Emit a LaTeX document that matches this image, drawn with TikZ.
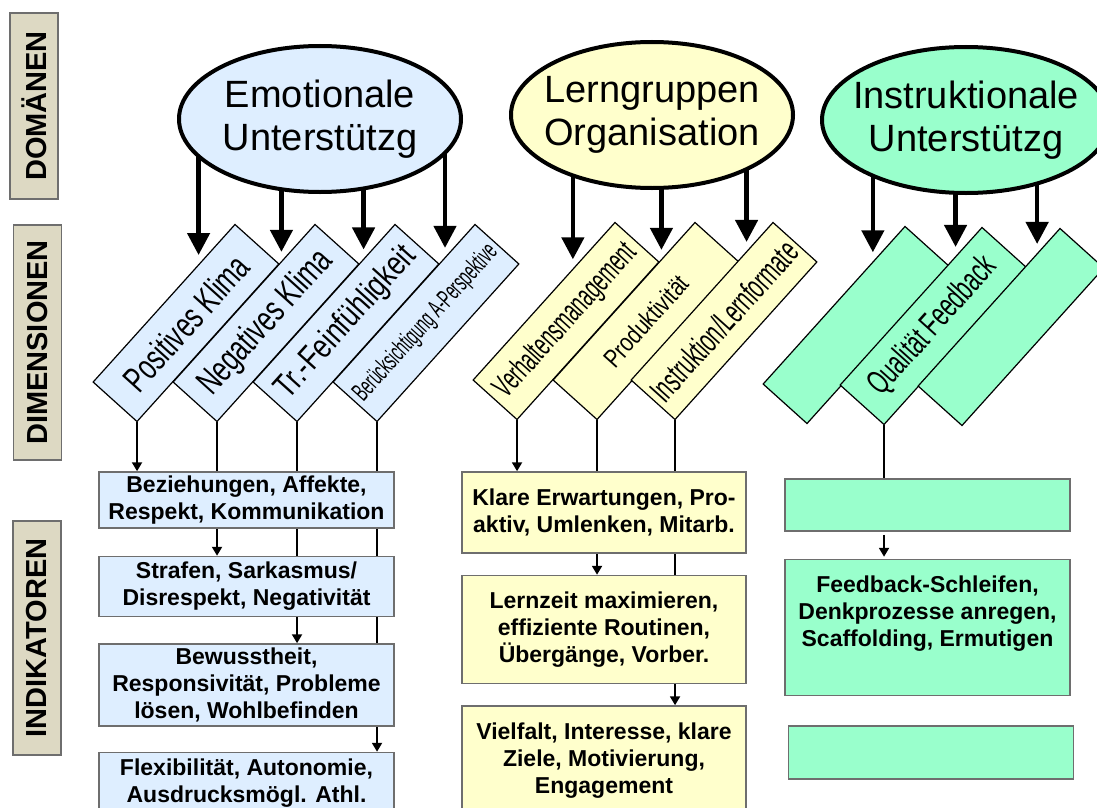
\documentclass[tikz,border=0pt]{standalone}
\usepackage{fontspec}
\setmainfont{Liberation Sans}
\usepackage{graphicx}
\usepackage{tikz}
\usetikzlibrary{shapes.geometric, arrows.meta, positioning, calc, backgrounds}

\definecolor{emoBlue}{RGB}{222,238,255}
\definecolor{orgYellow}{RGB}{255,255,204}
\definecolor{instGreen}{RGB}{153,255,204}
\definecolor{labelBeige}{RGB}{221,217,195}
\definecolor{frameGray}{RGB}{110,110,110}

% squeezed label text: factor, size, text
\newcommand{\dimlabel}[3]{\fontsize{#2}{#2}\selectfont\scalebox{#1}[1]{#3}}

\begin{document}
\begin{tikzpicture}[x=1pt, y=-1pt,
  domnode/.style={ellipse, draw, line width=4pt, minimum width=282pt, minimum height=146pt,
                  align=center, inner xsep=-20pt, inner ysep=0pt,
                  font={\fontsize{38}{43}\selectfont}},
  dimbox/.style={rectangle, draw, line width=1.2pt, rotate=48, minimum width=212pt,
                 minimum height=59pt, inner sep=0pt},
  indbox/.style={rectangle, draw=frameGray, line width=1.5pt, minimum width=295pt,
                 align=center, inner sep=1pt, font={\fontsize{23}{27}\bfseries\selectfont}},
  sidelbl/.style={rectangle, draw=frameGray, line width=1.5pt, fill=labelBeige, rotate=90,
                  minimum height=48pt, inner sep=0pt, font={\fontsize{29}{29}\bfseries\selectfont}},
  domarrow/.style={-{Triangle[length=22pt, width=22pt]}, line width=4.5pt, shorten >=9pt},
  connector/.style={line width=2pt},
  arrow/.style={connector, -{Triangle[length=9pt, width=10pt]}},
]
  \useasboundingbox (0,0) rectangle (1097,808);
  \clip (0,0) rectangle (1097,808);

  % Row labels on the left
  \node[sidelbl, minimum width=186pt] (domlbl) at (34,106) {DOMÄNEN};
  \node[sidelbl, minimum width=235pt] (dimlbl) at (37.5,342.5) {DIMENSIONEN};
  \node[sidelbl, minimum width=234pt] (indlbl) at (37,638) {INDIKATOREN};

  % Domains
  \node[domnode, fill=emoBlue] (emo) at (320,119) {Emotionale\\Unterstützg};
  \node[domnode, fill=orgYellow] (org) at (652,115) {Lerngruppen\\Organisation};
  \node[domnode, fill=instGreen, minimum width=288pt] (inst) at (966,120) {Instruktionale\\Unterstützg};

  % Dimensions: emotional support
  \node[dimbox, fill=emoBlue] (pk) at (186,323) {\dimlabel{0.69}{36}{Positives Klima}};
  \node[dimbox, fill=emoBlue] (nk) at (266,323) {\dimlabel{0.70}{36}{Negatives Klima}};
  \node[dimbox, fill=emoBlue] (tf) at (346,323) {\dimlabel{0.77}{34}{Tr.-Feinfühligkeit}};
  \node[dimbox, fill=emoBlue] (bp) at (426,323) {\dimlabel{0.55}{26}{Berücksichtigung A-Perspektive}};

  % Dimensions: classroom organisation
  \node[dimbox, fill=orgYellow] (vm) at (566,321) {\dimlabel{0.58}{32}{Verhaltensmanagement}};
  \node[dimbox, fill=orgYellow] (pr) at (646,321) {\dimlabel{0.79}{26}{Produktivität}};
  \node[dimbox, fill=orgYellow] (il) at (724,321) {\dimlabel{0.58}{34}{Instruktion/Lernformate}};

  % Dimensions: instructional support
  \node[dimbox, fill=instGreen] (g1) at (856,325) {};
  \node[dimbox, fill=instGreen] (qf) at (933,326) {\dimlabel{0.63}{34}{Qualität Feedback}};
  \node[dimbox, fill=instGreen] (g3) at (1011,327) {};

  % Indicators, one column per domain
  \node[indbox, fill=emoBlue, minimum height=56pt] (ib1) at (246.5,500)
    {Beziehungen, Affekte,\\Respekt, Kommunikation};
  \node[indbox, fill=emoBlue, minimum height=60pt, below=27pt of ib1] (ib2)
    {Strafen, Sarkasmus/\\Disrespekt, Negativität};
  \node[indbox, fill=emoBlue, minimum height=82pt, below=26pt of ib2] (ib3)
    {Bewusstheit,\\Responsivität, Probleme\\lösen, Wohlbefinden};
  \node[indbox, fill=emoBlue, minimum height=62pt, below=25pt of ib3] (ib4)
    {Flexibilität, Autonomie,\\Ausdrucksmögl. Athl.};

  \node[indbox, fill=orgYellow, minimum width=284pt, minimum height=81pt] (yb1) at (604,512.5)
    {Klare Erwartungen, Pro-\\aktiv, Umlenken, Mitarb.};
  \node[indbox, fill=orgYellow, minimum width=284pt, minimum height=108pt, below=21pt of yb1] (yb2)
    {Lernzeit maximieren,\\effiziente Routinen,\\Übergänge, Vorber.};
  \node[indbox, fill=orgYellow, minimum width=284pt, minimum height=110pt, below=21pt of yb2] (yb3)
    {Vielfalt, Interesse, klare\\Ziele, Motivierung,\\Engagement};

  \node[indbox, fill=instGreen, minimum width=285pt, minimum height=52pt] (gb1) at (927.5,505) {};
  \node[indbox, fill=instGreen, minimum width=285pt, minimum height=136pt, text depth=33pt,
        below=27pt of gb1] (gb2)
    {Feedback-Schleifen,\\Denkprozesse anregen,\\Scaffolding, Ermutigen};
  \node[indbox, fill=instGreen, minimum width=285pt, minimum height=53pt, below=29pt of gb2,
        xshift=3.5pt] (gb3) {};

  \begin{scope}[on background layer]
    % domain -> dimension
    \foreach \b/\t in {pk/0.49, nk/0.53, tf/0.56, bp/0.58} {
      \coordinate (\b-in) at ($(\b.north)!\t!(\b.north east)$);
      \draw[domarrow] (emo.center -| \b-in) -- (\b-in);
    }
    \foreach \b/\t in {vm/0.41, pr/0.53, il/0.63} {
      \coordinate (\b-in) at ($(\b.north)!\t!(\b.north east)$);
      \draw[domarrow] (org.center -| \b-in) -- (\b-in);
    }
    \foreach \b/\t in {g1/0.55, qf/0.63, g3/0.68} {
      \coordinate (\b-in) at ($(\b.north)!\t!(\b.north east)$);
      \draw[domarrow] (inst.center -| \b-in) -- (\b-in);
    }

    % dimension -> indicator
    \foreach \b/\i in {pk/ib1, nk/ib2, tf/ib3, bp/ib4, vm/yb1, pr/yb2, il/yb3}
      \draw[arrow] (\b.south west) -- (\b.south west |- \i.north);
    \draw[connector] (qf.south west) -- (qf.south west |- gb1.north);
    \draw[arrow, shorten <=3pt, shorten >=2pt] (qf.south west |- gb1.south) -- (qf.south west |- gb2.north);
  \end{scope}
\end{tikzpicture}
\end{document}
